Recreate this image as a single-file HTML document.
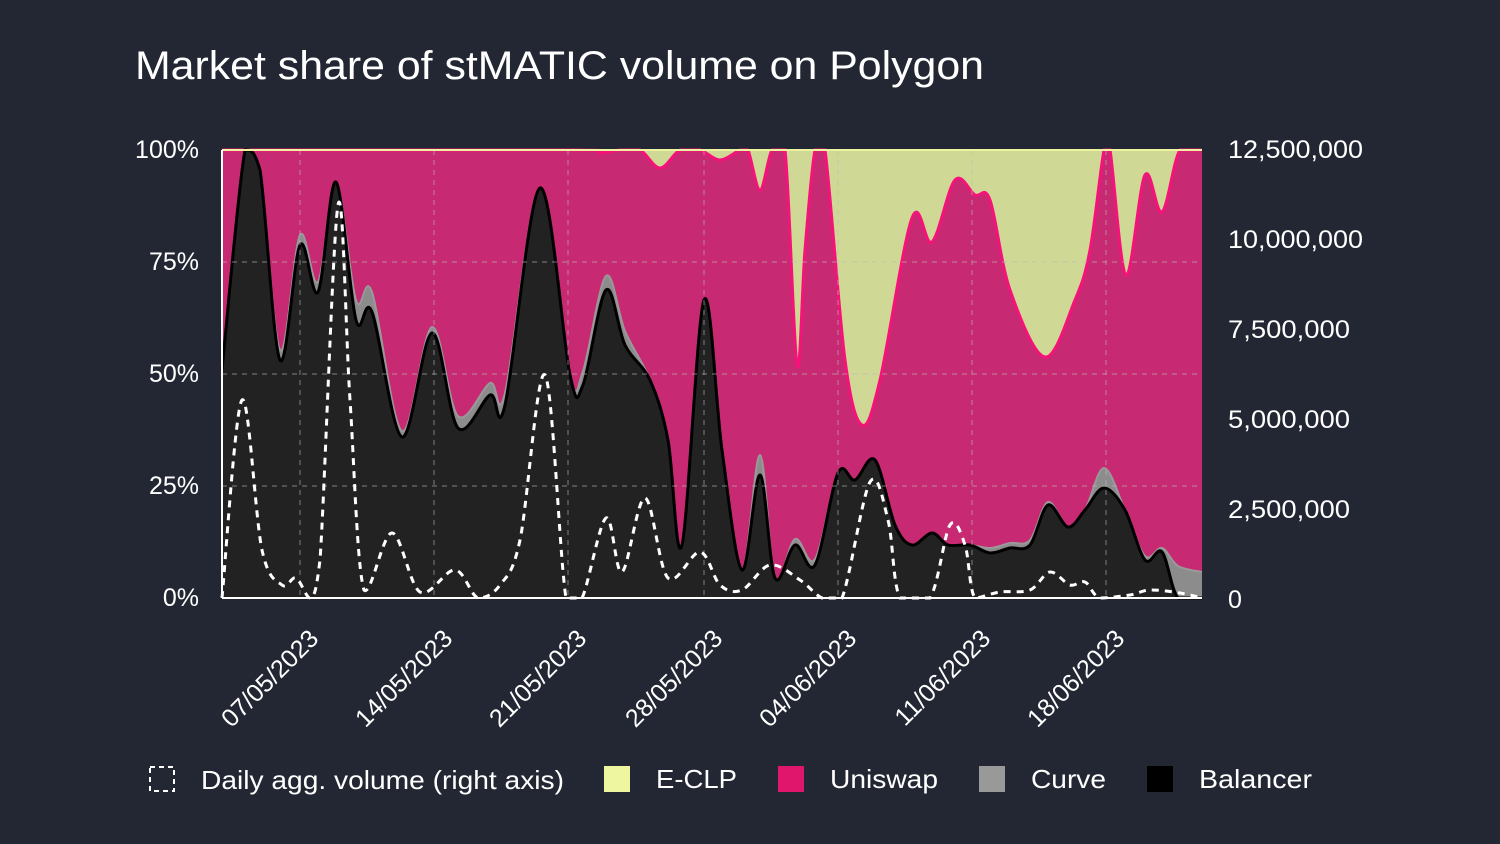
<!DOCTYPE html>
<html><head><meta charset="utf-8"><style>
html,body{margin:0;padding:0;background:#232733;}
body{width:1500px;height:844px;overflow:hidden;font-family:"Liberation Sans",sans-serif;}
</style></head><body>
<svg id="s" width="1500" height="844" xmlns="http://www.w3.org/2000/svg" style="position:absolute;left:0;top:0">
<rect width="1500" height="844" fill="#232733"/>
<text x="135" y="79" fill="#fff" font-size="40" textLength="849" lengthAdjust="spacingAndGlyphs" font-family="Liberation Sans, sans-serif">Market share of stMATIC volume on Polygon</text>
<rect x="222" y="150" width="980" height="448" fill="#cfd894"/>
<g id="areas"></g>
<g stroke="#bbb" stroke-opacity="0.5" stroke-width="1.2" stroke-dasharray="5,5" fill="none">
<line x1="222" y1="262" x2="1202" y2="262"/><line x1="222" y1="374" x2="1202" y2="374"/><line x1="222" y1="486" x2="1202" y2="486"/>
<line x1="300" y1="150" x2="300" y2="598"/><line x1="434" y1="150" x2="434" y2="598"/><line x1="568" y1="150" x2="568" y2="598"/><line x1="704" y1="150" x2="704" y2="598"/><line x1="838" y1="150" x2="838" y2="598"/><line x1="972" y1="150" x2="972" y2="598"/><line x1="1106" y1="150" x2="1106" y2="598"/>
</g>
<line x1="222" y1="150" x2="1202" y2="150" stroke="#eef3a0" stroke-width="2"/>
<g id="vol"></g>
<line x1="222" y1="150" x2="222" y2="598" stroke="#fff" stroke-width="2"/>
<line x1="222" y1="598" x2="1202" y2="598" stroke="#fff" stroke-width="2"/>
<g fill="#fff" font-size="25" font-family="Liberation Sans, sans-serif" text-anchor="end">
<text x="199" y="158">100%</text><text x="199" y="270">75%</text><text x="199" y="382">50%</text><text x="199" y="494">25%</text><text x="199" y="606">0%</text>
</g>
<g fill="#fff" font-size="25" font-family="Liberation Sans, sans-serif">
<text x="1228" y="158" textLength="135" lengthAdjust="spacingAndGlyphs">12,500,000</text><text x="1228" y="248" textLength="135" lengthAdjust="spacingAndGlyphs">10,000,000</text><text x="1228" y="338" textLength="122" lengthAdjust="spacingAndGlyphs">7,500,000</text><text x="1228" y="428" textLength="122" lengthAdjust="spacingAndGlyphs">5,000,000</text><text x="1228" y="518" textLength="122" lengthAdjust="spacingAndGlyphs">2,500,000</text><text x="1228" y="608">0</text>
</g>
<g fill="#fff" font-size="25" font-family="Liberation Sans, sans-serif" text-anchor="end">
<text transform="translate(320,640) rotate(-45)">07/05/2023</text>
<text transform="translate(454,640) rotate(-45)">14/05/2023</text>
<text transform="translate(588,640) rotate(-45)">21/05/2023</text>
<text transform="translate(724,640) rotate(-45)">28/05/2023</text>
<text transform="translate(858,640) rotate(-45)">04/06/2023</text>
<text transform="translate(992,640) rotate(-45)">11/06/2023</text>
<text transform="translate(1126,640) rotate(-45)">18/06/2023</text>
</g>
<g font-size="26" fill="#fff" font-family="Liberation Sans, sans-serif">
<rect x="150" y="767" width="24" height="24" fill="none" stroke="#fff" stroke-width="2" stroke-dasharray="5,4"/>
<text x="201" y="789" textLength="363" lengthAdjust="spacingAndGlyphs">Daily agg. volume (right axis)</text>
<rect x="604" y="766" width="26" height="26" fill="#eef7a0"/><text x="656" y="788" textLength="81" lengthAdjust="spacingAndGlyphs">E-CLP</text>
<rect x="778" y="766" width="26" height="26" fill="#e0156c"/><text x="830" y="788" textLength="108" lengthAdjust="spacingAndGlyphs">Uniswap</text>
<rect x="979" y="766" width="26" height="26" fill="#999"/><text x="1031" y="788" textLength="75" lengthAdjust="spacingAndGlyphs">Curve</text>
<rect x="1147" y="766" width="26" height="26" fill="#000"/><text x="1199" y="788" textLength="113" lengthAdjust="spacingAndGlyphs">Balancer</text>
</g>
</svg>
<script>
function cr(p){let d="M"+p[0][0]+","+p[0][1];for(let i=0;i<p.length-1;i++){const p0=p[i-1]||p[i],p1=p[i],p2=p[i+1],p3=p[i+2]||p2;
const c1=[p1[0]+(p2[0]-p0[0])/6,p1[1]+(p2[1]-p0[1])/6],c2=[p2[0]-(p3[0]-p1[0])/6,p2[1]-(p3[1]-p1[1])/6];
const cl=v=>Math.max(150,Math.min(598,v));
d+=" C"+c1[0].toFixed(1)+","+cl(c1[1]).toFixed(1)+" "+c2[0].toFixed(1)+","+cl(c2[1]).toFixed(1)+" "+p2[0]+","+p2[1];}return d;}
const pink=[[222,150],[575,150],[600,153],[620,150],[640,150],[660,168],[680,150],[700,150],[720,160],[740,150],[748,150],[760,190],[772,150],[785,150],[797,365],[805,250],[815,150],[825,150],[845,360],[862,425],[880,380],[912,218],[932,242],[955,180],[975,195],[990,200],[1010,290],[1045,357],[1075,300],[1090,250],[1104,150],[1110,150],[1126,275],[1145,175],[1162,212],[1180,150],[1202,150]];
const black=[[222,370],[245,150],[260,170],[280,360],[300,245],[318,292],[336,182],[356,320],[372,312],[402,437],[432,333],[458,428],[490,395],[505,405],[540,188],[570,375],[583,385],[606,290],[625,345],[650,380],[668,440],[682,545],[704,300],[722,450],[742,570],[760,475],[775,578],[795,545],[815,565],[838,473],[855,480],[875,460],[895,525],[912,545],[932,533],[948,545],[970,545],[990,553],[1010,548],[1030,545],[1048,505],[1068,527],[1085,510],[1104,488],[1125,510],[1145,560],[1162,552],[1178,598],[1202,598]];
const gray=black.map(([x,y])=>{let d=0;
if(x>=280&&x<=318)d=10;if(x>=356&&x<=372)d=20;if(x>=402&&x<=432)d=6;if(x>=458&&x<=505)d=12;if(x>=583&&x<=625)d=14;if(x==760)d=20;if(x>=795&&x<=815)d=6;if(x>=990&&x<=1030)d=5;if(x==1048)d=3;if(x==1104)d=20;if(x>=1145&&x<=1162)d=4;if(x==1178)d=32;if(x==1202)d=26;return [x,y-d];});
const vol=[[222,598],[242,400],[262,550],[282,585],[296,578],[310,598],[320,560],[338,205],[350,400],[364,590],[392,533],[420,592],[455,570],[478,598],[500,585],[520,540],[545,375],[566,598],[582,598],[606,518],[622,572],[645,498],[668,578],[700,552],[720,585],[742,590],[770,565],[800,580],[822,598],[842,598],[870,482],[888,520],[900,598],[930,598],[950,525],[965,545],[975,598],[1000,592],[1030,590],[1050,572],[1070,585],[1085,582],[1100,598],[1130,595],[1150,590],[1180,593],[1202,598]];
function area(p,fill,stroke,sw){return '<path d="'+cr(p)+' L1202,598 L222,598 Z" fill="'+fill+'"/><path d="'+cr(p)+'" fill="none" stroke="'+stroke+'" stroke-width="'+sw+'"/>';}
document.getElementById('areas').innerHTML=area(pink,'#c72a72','#f5127a',3)+area(gray,'#8c8c8c','#999',2)+area(black,'#222','#000',3);
document.getElementById('vol').innerHTML='<path d="'+cr(vol)+'" fill="none" stroke="#fff" stroke-width="3" stroke-dasharray="7,6"/>';
</script>
</body></html>
